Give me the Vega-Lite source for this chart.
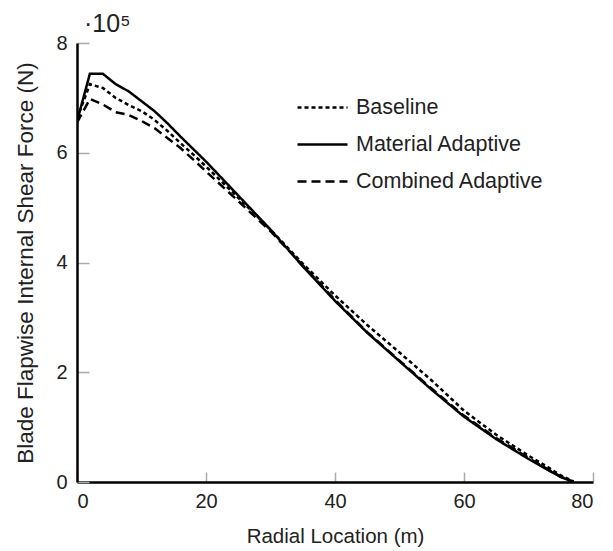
{
  "$schema": "https://vega.github.io/schema/vega-lite/v6.json",
  "autosize": "none",
  "width": 516,
  "height": 439,
  "padding": {"left": 77, "top": 43, "right": 20, "bottom": 69},
  "background": "white",
  "title": {"text": "·10⁵", "anchor": "start", "frame": "group", "offset": -4, "fontSize": 25, "fontWeight": "normal", "font": "Liberation Sans", "color": "#222", "dx": 7},
  "config": {"view": {"stroke": null}, "font": "Liberation Sans"},
  "data": {"values": [
    {"r": 0, "f": 662000, "s": "Baseline"},
    {"r": 2, "f": 725000, "s": "Baseline"},
    {"r": 4, "f": 718000, "s": "Baseline"},
    {"r": 6, "f": 700000, "s": "Baseline"},
    {"r": 8, "f": 687000, "s": "Baseline"},
    {"r": 10, "f": 676000, "s": "Baseline"},
    {"r": 12, "f": 660000, "s": "Baseline"},
    {"r": 14, "f": 640000, "s": "Baseline"},
    {"r": 16, "f": 618000, "s": "Baseline"},
    {"r": 18, "f": 597000, "s": "Baseline"},
    {"r": 20, "f": 575000, "s": "Baseline"},
    {"r": 25, "f": 518000, "s": "Baseline"},
    {"r": 30, "f": 460000, "s": "Baseline"},
    {"r": 35, "f": 398000, "s": "Baseline"},
    {"r": 40, "f": 340000, "s": "Baseline"},
    {"r": 45, "f": 286000, "s": "Baseline"},
    {"r": 50, "f": 236000, "s": "Baseline"},
    {"r": 55, "f": 185000, "s": "Baseline"},
    {"r": 60, "f": 130000, "s": "Baseline"},
    {"r": 65, "f": 86000, "s": "Baseline"},
    {"r": 70, "f": 48000, "s": "Baseline"},
    {"r": 73, "f": 27000, "s": "Baseline"},
    {"r": 75, "f": 12000, "s": "Baseline"},
    {"r": 77, "f": 1000, "s": "Baseline"},
    {"r": 0, "f": 657000, "s": "Material Adaptive"},
    {"r": 2, "f": 744000, "s": "Material Adaptive"},
    {"r": 4, "f": 744000, "s": "Material Adaptive"},
    {"r": 6, "f": 725000, "s": "Material Adaptive"},
    {"r": 8, "f": 712000, "s": "Material Adaptive"},
    {"r": 10, "f": 694000, "s": "Material Adaptive"},
    {"r": 12, "f": 676000, "s": "Material Adaptive"},
    {"r": 14, "f": 654000, "s": "Material Adaptive"},
    {"r": 16, "f": 630000, "s": "Material Adaptive"},
    {"r": 18, "f": 607000, "s": "Material Adaptive"},
    {"r": 20, "f": 584000, "s": "Material Adaptive"},
    {"r": 25, "f": 522000, "s": "Material Adaptive"},
    {"r": 30, "f": 460000, "s": "Material Adaptive"},
    {"r": 35, "f": 393000, "s": "Material Adaptive"},
    {"r": 40, "f": 330000, "s": "Material Adaptive"},
    {"r": 45, "f": 272000, "s": "Material Adaptive"},
    {"r": 50, "f": 220000, "s": "Material Adaptive"},
    {"r": 55, "f": 168000, "s": "Material Adaptive"},
    {"r": 60, "f": 119000, "s": "Material Adaptive"},
    {"r": 65, "f": 78000, "s": "Material Adaptive"},
    {"r": 70, "f": 42000, "s": "Material Adaptive"},
    {"r": 73, "f": 22000, "s": "Material Adaptive"},
    {"r": 75, "f": 9000, "s": "Material Adaptive"},
    {"r": 77, "f": 0, "s": "Material Adaptive"},
    {"r": 0, "f": 655000, "s": "Combined Adaptive"},
    {"r": 2, "f": 698000, "s": "Combined Adaptive"},
    {"r": 4, "f": 688000, "s": "Combined Adaptive"},
    {"r": 6, "f": 674000, "s": "Combined Adaptive"},
    {"r": 8, "f": 669000, "s": "Combined Adaptive"},
    {"r": 10, "f": 658000, "s": "Combined Adaptive"},
    {"r": 12, "f": 645000, "s": "Combined Adaptive"},
    {"r": 14, "f": 627000, "s": "Combined Adaptive"},
    {"r": 16, "f": 609000, "s": "Combined Adaptive"},
    {"r": 18, "f": 588000, "s": "Combined Adaptive"},
    {"r": 20, "f": 566000, "s": "Combined Adaptive"},
    {"r": 25, "f": 512000, "s": "Combined Adaptive"},
    {"r": 30, "f": 457000, "s": "Combined Adaptive"},
    {"r": 35, "f": 395000, "s": "Combined Adaptive"},
    {"r": 40, "f": 332000, "s": "Combined Adaptive"},
    {"r": 45, "f": 273000, "s": "Combined Adaptive"},
    {"r": 50, "f": 221000, "s": "Combined Adaptive"},
    {"r": 55, "f": 170000, "s": "Combined Adaptive"},
    {"r": 60, "f": 121000, "s": "Combined Adaptive"},
    {"r": 65, "f": 80000, "s": "Combined Adaptive"},
    {"r": 70, "f": 44000, "s": "Combined Adaptive"},
    {"r": 73, "f": 23000, "s": "Combined Adaptive"},
    {"r": 75, "f": 10000, "s": "Combined Adaptive"},
    {"r": 77, "f": 0, "s": "Combined Adaptive"}
  ]},
  "mark": {"type": "line", "color": "black", "strokeWidth": 2.5, "clip": true},
  "encoding": {
    "x": {"field": "r", "type": "quantitative",
      "scale": {"domain": [0, 80], "nice": false},
      "axis": {"title": "Radial Location (m)", "values": [0, 20, 40, 60, 80], "grid": false,
        "domainColor": "black", "domainWidth": 2.5, "tickColor": "#aaa", "tickSize": -10, "tickWidth": 1.5,
        "labelFontSize": 20, "labelColor": "#222", "labelPadding": 19, "titleFontSize": 20.5, "titleFontWeight": "normal", "titleColor": "#222", "titlePadding": 15}},
    "y": {"field": "f", "type": "quantitative",
      "scale": {"domain": [0, 800000], "nice": false},
      "axis": {"title": "Blade Flapwise Internal Shear Force (N)", "values": [0, 200000, 400000, 600000, 800000], "labelExpr": "datum.value / 100000", "grid": false,
        "domainColor": "black", "domainWidth": 2.5, "tickColor": "#aaa", "tickSize": -12, "tickWidth": 1.5,
        "labelFontSize": 20, "labelColor": "#222", "labelPadding": 22, "titleFontSize": 22.5, "titleFontWeight": "normal", "titleColor": "#222", "titlePadding": 18}},
    "strokeDash": {"field": "s", "type": "nominal",
      "scale": {"domain": ["Baseline", "Material Adaptive", "Combined Adaptive"], "range": [[4, 3], [1, 0], [9, 5]]},
      "legend": {"title": null, "orient": "none", "legendX": 219, "legendY": 38, "symbolType": "stroke", "symbolSize": 2500,
        "symbolStrokeWidth": 2.5, "symbolStrokeColor": "black", "labelFontSize": 21.5, "labelColor": "#222", "labelOffset": 7, "rowPadding": -23.5, "labelLimit": 300}}
  }
}
